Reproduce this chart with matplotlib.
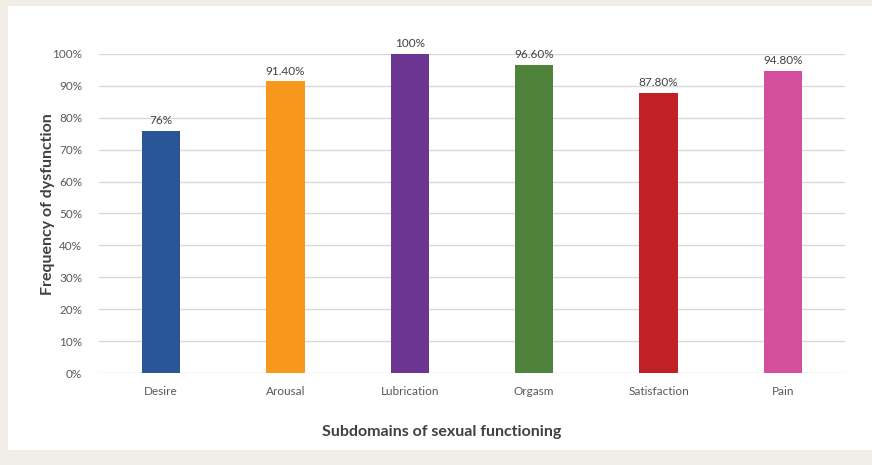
import matplotlib
matplotlib.use("Agg")
import matplotlib.pyplot as plt
from matplotlib.patches import Rectangle
from matplotlib.ticker import PercentFormatter

categories = ["Desire", "Arousal", "Lubrication", "Orgasm", "Satisfaction", "Pain"]
values = [76, 91.4, 100, 96.6, 87.8, 94.8]
value_labels = ["76%", "91.40%", "100%", "96.60%", "87.80%", "94.80%"]
colors = ["#2a5597", "#f7981d", "#6b3591", "#4f823a", "#c02026", "#d44f9d"]

plt.rcParams['font.family'] = ['Lato', 'DejaVu Sans']

fig = plt.figure(figsize=(8.72, 4.65), dpi=100)
fig.patch.set_facecolor("#f0ede7")
# white panel behind the chart
fig.patches.append(Rectangle((8 / 872, 1 - 450 / 465), 1, (450 - 6) / 465,
                             transform=fig.transFigure, facecolor="white",
                             edgecolor="none", zorder=-5))

ax = fig.add_axes([99 / 872, 92 / 465, (845 - 99) / 872, (373 - 54) / 465])
ax.set_facecolor("none")

x = range(len(categories))
ax.bar(x, values, width=0.31, color=colors, zorder=3)

for i, v in enumerate(values):
    ax.text(i, v + 1.5, value_labels[i], ha="center", va="bottom",
            fontsize=8.5, color="#404040")

ax.set_xlim(-0.5, len(categories) - 0.5)
ax.set_ylim(0, 100)
ax.set_yticks(range(0, 101, 10))
ax.yaxis.set_major_formatter(PercentFormatter(decimals=0))
ax.set_xticks(list(x))
ax.set_xticklabels(categories)
ax.tick_params(length=0, labelsize=8.5, labelcolor="#595959")
ax.tick_params(axis="x", pad=9)
ax.tick_params(axis="y", pad=12)
ax.grid(axis="y", color="#d9d9d9", linewidth=1, zorder=0)
ax.set_axisbelow(True)
for s in ax.spines.values():
    s.set_visible(False)

fig.text(442 / 872, 1 - 432 / 465, "Subdomains of sexual functioning",
         ha="center", va="center", fontsize=11.5, fontweight="bold", color="#404040")
fig.text(48 / 872, 1 - 204 / 465, "Frequency of dysfunction", rotation=90,
         ha="center", va="center", fontsize=11.5, fontweight="bold", color="#404040")

fig.savefig("out.png", dpi=100)
